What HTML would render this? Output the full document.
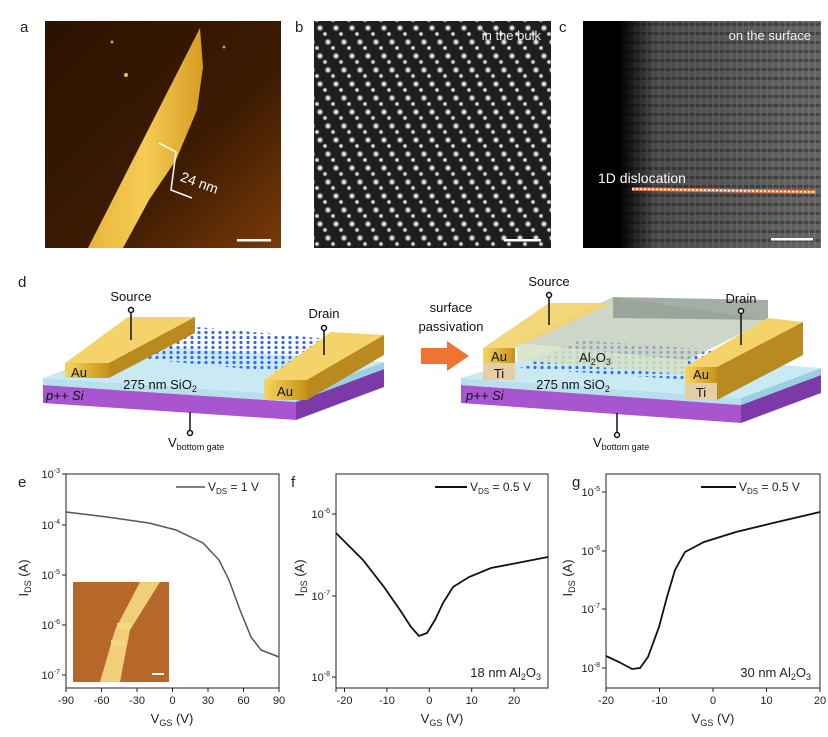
<!DOCTYPE html>
<html><head><meta charset="utf-8"><style>
html,body{margin:0;padding:0;background:#fff;}
svg{display:block;font-family:"Liberation Sans",sans-serif;}
</style></head><body>
<svg width="828" height="737" viewBox="0 0 828 737" xmlns="http://www.w3.org/2000/svg">
<defs>
<linearGradient id="afm" x1="0" y1="0" x2="1" y2="1">
<stop offset="0" stop-color="#2a1200"/><stop offset="0.6" stop-color="#3d1b02"/><stop offset="1" stop-color="#7a3a08"/></linearGradient>
<linearGradient id="flake" x1="0" y1="0" x2="1" y2="0">
<stop offset="0" stop-color="#e8b43a"/><stop offset="0.5" stop-color="#f4cc55"/><stop offset="1" stop-color="#d69c22"/></linearGradient>
<radialGradient id="atom"><stop offset="0" stop-color="#fff"/><stop offset="0.5" stop-color="#bbb"/><stop offset="1" stop-color="#222" stop-opacity="0"/></radialGradient>
<pattern id="lat" width="16" height="28" patternUnits="userSpaceOnUse">
<rect width="16" height="28" fill="#1e1e1e"/>
<circle cx="0" cy="0" r="4" fill="url(#atom)"/><circle cx="16" cy="0" r="4" fill="url(#atom)"/>
<circle cx="0" cy="28" r="4" fill="url(#atom)"/><circle cx="16" cy="28" r="4" fill="url(#atom)"/>
<circle cx="8" cy="14" r="4" fill="url(#atom)"/>
<circle cx="5" cy="6" r="3" fill="url(#atom)"/><circle cx="13" cy="20" r="3" fill="url(#atom)"/>
</pattern>
<pattern id="stripes" width="6" height="9" patternUnits="userSpaceOnUse">
<rect width="6" height="9" fill="#6a6a6a"/><rect y="5" width="6" height="3" fill="#4a4a4a"/><rect x="4" width="2" height="9" fill="#808080" opacity="0.5"/>
</pattern>
<linearGradient id="cfade" x1="0" y1="0" x2="1" y2="0">
<stop offset="0" stop-color="#000"/><stop offset="0.15" stop-color="#000"/><stop offset="0.3" stop-color="#000" stop-opacity="0.3"/><stop offset="1" stop-color="#000" stop-opacity="0.05"/></linearGradient>
<linearGradient id="au" x1="0" y1="0" x2="1" y2="0"><stop offset="0" stop-color="#f5d560"/><stop offset="1" stop-color="#c8921a"/></linearGradient>
<pattern id="mos" width="7" height="5" patternUnits="userSpaceOnUse"><circle cx="3" cy="2.5" r="1.6" fill="#3a68e8"/></pattern>
</defs>

<!-- top panel labels -->
<g font-size="15" fill="#222"><text x="20" y="32">a</text><text x="295" y="32">b</text><text x="559" y="32">c</text></g>

<!-- a -->
<rect x="45" y="21" width="236" height="227" fill="url(#afm)"/>
<polygon points="200,28 88,248 123,248 149,200 176,160 197,110 203,67" fill="url(#flake)"/>
<circle cx="112" cy="42" r="1.5" fill="#e0a030"/><circle cx="126" cy="75" r="2" fill="#f0c040"/><circle cx="224" cy="47" r="1.5" fill="#d09030"/>
<polyline points="159,143 176,152 171,190 192,198" fill="none" stroke="#fff" stroke-width="1.5"/>
<text x="180" y="186" font-size="14" fill="#fff" transform="rotate(20 195 182)">24 nm</text>
<rect x="237" y="239" width="34" height="2.5" fill="#fff"/>

<!-- b -->
<rect x="314" y="21" width="237" height="227" fill="url(#lat)"/>
<text x="541" y="40" font-size="13" fill="#eee" text-anchor="end">in the bulk</text>
<rect x="504" y="239" width="37" height="2.5" fill="#fff"/>

<!-- c -->
<rect x="583" y="21" width="238" height="227" fill="url(#stripes)"/>
<rect x="583" y="21" width="238" height="227" fill="url(#cfade)"/>
<text x="811" y="40" font-size="13" fill="#eee" text-anchor="end">on the surface</text>
<text x="598" y="183" font-size="14" fill="#fff">1D dislocation</text>
<line x1="632" y1="189" x2="816" y2="192" stroke="#e8804a" stroke-width="3.5"/>
<line x1="632" y1="189" x2="816" y2="192" stroke="#fff" stroke-width="1.5" stroke-dasharray="2 2"/>
<rect x="771" y="238" width="42" height="2.5" fill="#fff"/>

<!-- d -->
<text x="18" y="287" font-size="15" fill="#222">d</text>
<!-- left device -->
<g>
<polygon points="43,385 296,402 296,420 43,403" fill="#a855d0"/>
<polygon points="296,402 384,369 384,387 296,420" fill="#7c3aa8"/>
<polygon points="43,378 296,395 296,402 43,385" fill="#b8e0ec"/>
<polygon points="296,395 384,362 384,369 296,402" fill="#9ccfe0"/>
<polygon points="43,378 296,395 384,362 131,345" fill="#c9eaf2"/>
<polygon points="100,355 280,372 340,340 175,325" fill="url(#mos)"/>
<!-- left Au -->
<polygon points="65,363 128,317 195,317 109,363" fill="#f3d36a"/>
<polygon points="109,363 195,317 195,333 109,378" fill="#b98a20"/>
<rect x="65" y="363" width="44" height="15" fill="url(#au)"/>
<!-- right Au -->
<polygon points="264,380 331,332 384,335 307,380" fill="#f3d36a"/>
<polygon points="307,380 384,335 384,355 307,400" fill="#b98a20"/>
<rect x="264" y="380" width="43" height="20" fill="url(#au)"/>
</g>
<g font-size="13" fill="#111">
<text x="79" y="377" text-anchor="middle">Au</text>
<text x="285" y="396" text-anchor="middle">Au</text>
<text x="160" y="389" text-anchor="middle">275 nm SiO<tspan font-size="9" dy="3">2</tspan></text>
<text x="46" y="400" font-style="italic">p++ Si</text>
<text x="131" y="301" text-anchor="middle">Source</text>
<text x="324" y="318" text-anchor="middle">Drain</text>
<text x="168" y="447">V<tspan font-size="9" dy="3">bottom gate</tspan></text>
</g>
<g stroke="#111" stroke-width="1.5" fill="#fff">
<line x1="131" y1="312" x2="131" y2="340"/><circle cx="131" cy="310" r="2.5"/>
<line x1="324" y1="330" x2="324" y2="355"/><circle cx="324" cy="328" r="2.5"/>
<line x1="190" y1="412" x2="190" y2="430"/><circle cx="190" cy="433" r="2.5"/>
</g>
<!-- arrow -->
<polygon points="421,348 447,348 447,341 469,356 447,371 447,364 421,364" fill="#ee7434"/>
<text x="451" y="312" font-size="13" text-anchor="middle" fill="#111">surface</text>
<text x="451" y="331" font-size="13" text-anchor="middle" fill="#111">passivation</text>
<!-- right device -->
<g>
<polygon points="461,385 741,405 741,423 461,403" fill="#a855d0"/>
<polygon points="741,405 821,375 821,393 741,423" fill="#7c3aa8"/>
<polygon points="461,378 741,398 741,405 461,385" fill="#b8e0ec"/>
<polygon points="741,398 821,368 821,375 741,405" fill="#9ccfe0"/>
<polygon points="461,378 741,398 821,368 560,348" fill="#c9eaf2"/>
<polygon points="520,368 690,380 740,352 580,340" fill="url(#mos)"/>
<!-- Al2O3 back/top -->
<polygon points="517,343 613,297 768,320 688,360" fill="#b9c4b0" opacity="0.7"/>
<polygon points="613,297 768,300 768,320 613,318" fill="#8f9a90" opacity="0.8"/>
<!-- left bar -->
<polygon points="483,348 549,303 613,303 515,348" fill="#f3d36a" opacity="0.9"/>
<rect x="483" y="348" width="32" height="15" fill="url(#au)"/>
<rect x="483" y="363" width="32" height="17" fill="#e6cfa8"/>
<!-- Al2O3 front -->
<polygon points="517,343 688,360 688,375 517,360" fill="#d6e2c4" opacity="0.85"/>
<!-- right bar -->
<polygon points="685,367 768,318 803,322 717,367" fill="#f3d36a"/>
<polygon points="717,367 803,322 803,355 717,400" fill="#b98a20"/>
<rect x="685" y="367" width="32" height="16" fill="url(#au)"/>
<rect x="685" y="383" width="32" height="17" fill="#e6cfa8"/>
</g>
<g font-size="13" fill="#111">
<text x="499" y="361" text-anchor="middle">Au</text>
<text x="499" y="378" text-anchor="middle">Ti</text>
<text x="701" y="379" text-anchor="middle">Au</text>
<text x="701" y="397" text-anchor="middle">Ti</text>
<text x="595" y="362" text-anchor="middle">Al<tspan font-size="9" dy="3">2</tspan><tspan dy="-3">O</tspan><tspan font-size="9" dy="3">3</tspan></text>
<text x="573" y="389" text-anchor="middle">275 nm SiO<tspan font-size="9" dy="3">2</tspan></text>
<text x="466" y="400" font-style="italic">p++ Si</text>
<text x="549" y="286" text-anchor="middle">Source</text>
<text x="741" y="303" text-anchor="middle">Drain</text>
<text x="593" y="447">V<tspan font-size="9" dy="3">bottom gate</tspan></text>
</g>
<g stroke="#111" stroke-width="1.5" fill="#fff">
<line x1="549" y1="297" x2="549" y2="325"/><circle cx="549" cy="295" r="2.5"/>
<line x1="741" y1="313" x2="741" y2="345"/><circle cx="741" cy="311" r="2.5"/>
<line x1="617" y1="413" x2="617" y2="432"/><circle cx="617" cy="435" r="2.5"/>
</g>

<!-- e -->
<g font-size="11" fill="#222">
<text x="18" y="487" font-size="15">e</text>
<text x="291" y="487" font-size="15">f</text>
<text x="572" y="487" font-size="15">g</text>
</g>
<g fill="none" stroke="#222" stroke-width="1">
<rect x="66" y="474" width="213" height="214"/>
<rect x="336" y="474" width="212" height="214"/>
<rect x="606" y="474" width="214" height="214"/>
</g>
<!-- e inset -->
<rect x="73" y="582" width="96" height="100" fill="#b5682a"/>
<polygon points="140,582 160,582 130,630 120,682 100,682 115,630" fill="#f0cf78"/>
<rect x="117" y="623" width="14" height="6" fill="#f5d880"/><rect x="111" y="640" width="14" height="6" fill="#f5d880"/>
<rect x="152" y="673" width="12" height="2" fill="#fff"/>
<!-- ticks and labels e -->
<g stroke="#222" stroke-width="1">
<path d="M66,688v4M101.5,688v4M137,688v4M172.5,688v4M208,688v4M243.5,688v4M279,688v4"/>
<path d="M66,474h-4M66,525h-4M66,575h-4M66,625h-4M66,675h-4"/>
<path d="M336,688v4M344.5,688v4M386.9,688v4M429.3,688v4M471.7,688v4M514.1,688v4"/>
<path d="M336,514h-4M336,596h-4M336,677h-4"/>
<path d="M606,688v4M659.5,688v4M713,688v4M766.5,688v4M820,688v4"/>
<path d="M606,492h-4M606,551h-4M606,609h-4M606,668h-4"/>
</g>
<g font-size="11" fill="#222" text-anchor="middle">
<text x="66" y="704">-90</text><text x="101.5" y="704">-60</text><text x="137" y="704">-30</text><text x="172.5" y="704">0</text><text x="208" y="704">30</text><text x="243.5" y="704">60</text><text x="279" y="704">90</text>
<text x="344.5" y="704">-20</text><text x="386.9" y="704">-10</text><text x="429.3" y="704">0</text><text x="471.7" y="704">10</text><text x="514.1" y="704">20</text>
<text x="606" y="704">-20</text><text x="659.5" y="704">-10</text><text x="713" y="704">0</text><text x="766.5" y="704">10</text><text x="820" y="704">20</text>
</g>
<g font-size="11" fill="#222" text-anchor="end">
<text x="60" y="478">10<tspan font-size="7" dy="-5">-3</tspan></text>
<text x="60" y="529">10<tspan font-size="7" dy="-5">-4</tspan></text>
<text x="60" y="579">10<tspan font-size="7" dy="-5">-5</tspan></text>
<text x="60" y="629">10<tspan font-size="7" dy="-5">-6</tspan></text>
<text x="60" y="679">10<tspan font-size="7" dy="-5">-7</tspan></text>
<text x="330" y="518">10<tspan font-size="7" dy="-5">-6</tspan></text>
<text x="330" y="600">10<tspan font-size="7" dy="-5">-7</tspan></text>
<text x="330" y="681">10<tspan font-size="7" dy="-5">-8</tspan></text>
<text x="600" y="496">10<tspan font-size="7" dy="-5">-5</tspan></text>
<text x="600" y="555">10<tspan font-size="7" dy="-5">-6</tspan></text>
<text x="600" y="613">10<tspan font-size="7" dy="-5">-7</tspan></text>
<text x="600" y="672">10<tspan font-size="7" dy="-5">-8</tspan></text>
</g>
<g font-size="13" fill="#222" text-anchor="middle">
<text x="172" y="723">V<tspan font-size="9" dy="3">GS</tspan><tspan dy="-3"> (V)</tspan></text>
<text x="442" y="723">V<tspan font-size="9" dy="3">GS</tspan><tspan dy="-3"> (V)</tspan></text>
<text x="713" y="723">V<tspan font-size="9" dy="3">GS</tspan><tspan dy="-3"> (V)</tspan></text>
<text transform="translate(28,578) rotate(-90)">I<tspan font-size="9" dy="3">DS</tspan><tspan dy="-3"> (A)</tspan></text>
<text transform="translate(304,578) rotate(-90)">I<tspan font-size="9" dy="3">DS</tspan><tspan dy="-3"> (A)</tspan></text>
<text transform="translate(572,578) rotate(-90)">I<tspan font-size="9" dy="3">DS</tspan><tspan dy="-3"> (A)</tspan></text>
</g>
<!-- legends -->
<line x1="176" y1="487" x2="205" y2="487" stroke="#555" stroke-width="1.5"/>
<line x1="435" y1="487" x2="467" y2="487" stroke="#111" stroke-width="2"/>
<line x1="701" y1="487" x2="736" y2="487" stroke="#111" stroke-width="2"/>
<g font-size="12" fill="#222">
<text x="208" y="491">V<tspan font-size="8" dy="3">DS</tspan><tspan dy="-3"> = 1 V</tspan></text>
<text x="470" y="491">V<tspan font-size="8" dy="3">DS</tspan><tspan dy="-3"> = 0.5 V</tspan></text>
<text x="739" y="491">V<tspan font-size="8" dy="3">DS</tspan><tspan dy="-3"> = 0.5 V</tspan></text>
<text x="541" y="677" text-anchor="end" font-size="13">18 nm Al<tspan font-size="9" dy="3">2</tspan><tspan dy="-3">O</tspan><tspan font-size="9" dy="3">3</tspan></text>
<text x="811" y="677" text-anchor="end" font-size="13">30 nm Al<tspan font-size="9" dy="3">2</tspan><tspan dy="-3">O</tspan><tspan font-size="9" dy="3">3</tspan></text>
</g>
<!-- curves -->
<polyline fill="none" stroke="#555" stroke-width="1.5" points="66,512 107,517 149,523 176,530 203,543 219,560 229,580 240,610 251,637 261,650 279,657"/>
<polyline fill="none" stroke="#111" stroke-width="1.8" points="336,533 363,560 384,587 400,610 411,627 419,636 427,633 435,620 443,603 453,587 469,577 491,568 517,563 548,557"/>
<polyline fill="none" stroke="#111" stroke-width="1.8" points="606,656 619,662 632,669 640,668 648,657 659,627 667,597 675,570 685,552 704,542 736,532 773,523 820,512"/>
</svg>
</body></html>
